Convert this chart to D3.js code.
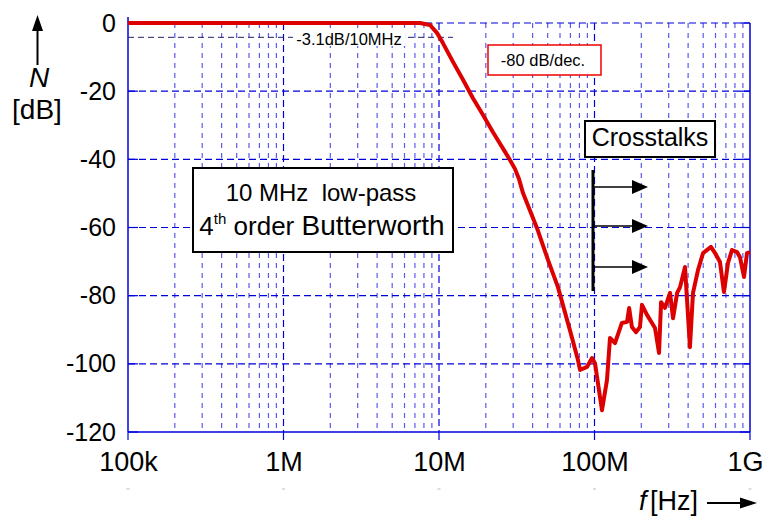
<!DOCTYPE html>
<html><head><meta charset="utf-8">
<script src="https://cdn.jsdelivr.net/npm/d3@7"></script>
<style>
body{margin:0;background:#fff;}
svg{display:block;font-family:"Liberation Sans",Arial,sans-serif;}
</style></head>
<body>
<script>
// ---- data ----
const freqHz = [1e5, 7.0e6, 7.55e6, 8.75e6, 9.7e6, 10.6e6, 12.3e6, 14.3e6, 16.5e6, 19.2e6, 22.2e6, 26.6e6, 28.6e6, 30.8e6, 32.7e6, 34.7e6, 42.7e6, 50.2e6, 58.2e6, 69.5e6, 78.3e6, 80.7e6, 89.5e6, 96.4e6, 100.7e6, 111.7e6, 120.3e6, 125.8e6, 135.5e6, 150e6, 162e6, 167e6, 174e6, 185e6, 196e6, 202e6, 218e6, 245e6, 260e6, 268e6, 284e6, 306e6, 320e6, 340e6, 355e6, 382e6, 411e6, 430e6, 463e6, 499e6, 561e6, 596e6, 641e6, 680e6, 722e6, 766e6, 825e6, 862e6, 915e6, 957e6, 1000e6];
const gainDb = [0, 0, 0, -0.6, -2.9, -5.9, -11.4, -16.7, -22.0, -27.0, -32.0, -37.8, -40.2, -42.8, -45.8, -49.9, -60.2, -69.5, -77.5, -90.1, -98.9, -101.8, -100.9, -98.3, -99.8, -113.6, -104.8, -92.4, -93.9, -88.0, -87.7, -83.6, -89.2, -90.7, -89.2, -82.7, -85.7, -89.5, -96.8, -81.9, -83.6, -79.2, -86.6, -79.2, -77.5, -71.6, -95.1, -79.2, -72.5, -67.5, -65.7, -67.5, -70.1, -78.9, -70.4, -66.6, -67.2, -68.7, -74.5, -67.5, -67.2];
const xTickValues = [1e5, 1e6, 1e7, 1e8, 1e9];
const xTickLabels = ["100k", "1M", "10M", "100M", "1G"];
const yTickValues = [0, -20, -40, -60, -80, -100, -120];
const yTickLabels = ["0", "-20", "-40", "-60", "-80", "-100", "-120"];
const cornerLevel = -4.2;
const cornerLabel = "-3.1dB/10MHz";
const slopeLabel = "-80 dB/dec.";
const crosstalkLabel = "Crosstalks";
const filterLine1 = "10 MHz  low-pass";

// ---- layout ----
const W = 766, H = 518;
const m = {left:128, right:750, top:23, bottom:432};
const svg = d3.select("body").append("svg").attr("width", W).attr("height", H);
const x = d3.scaleLog().domain([1e5, 1e9]).range([m.left, m.right]);
const y = d3.scaleLinear().domain([-120, 0]).range([m.bottom, m.top]);
const blue = "#0000dd";

// minor vertical grid
const minors = [];
for (let d = 1e5; d < 1e9; d *= 10) for (let k = 2; k <= 9; k++) minors.push(d * k);
svg.append("g").selectAll("line").data(minors).join("line")
  .attr("x1", d => x(d)).attr("x2", d => x(d)).attr("y1", m.top).attr("y2", m.bottom)
  .attr("stroke", "#5a5aee").attr("stroke-width", 1.2).attr("stroke-dasharray", "5,5");
// major vertical grid
svg.append("g").selectAll("line").data(xTickValues.slice(1, -1)).join("line")
  .attr("x1", d => x(d)).attr("x2", d => x(d)).attr("y1", m.top).attr("y2", m.bottom)
  .attr("stroke", blue).attr("stroke-width", 1.2).attr("stroke-dasharray", "7,4");
// horizontal grid
svg.append("g").selectAll("line").data(yTickValues.slice(0, -1)).join("line")
  .attr("x1", m.left).attr("x2", m.right).attr("y1", d => y(d)).attr("y2", d => y(d))
  .attr("stroke", blue).attr("stroke-width", 1.2).attr("stroke-dasharray", "7,4");
// inner solid ticks left / right
svg.append("g").selectAll("line").data(yTickValues).join("line")
  .attr("x1", m.left).attr("x2", m.left + 10).attr("y1", d => y(d)).attr("y2", d => y(d))
  .attr("stroke", blue).attr("stroke-width", 1.2);
svg.append("g").selectAll("line").data(yTickValues).join("line")
  .attr("x1", m.right - 10).attr("x2", m.right).attr("y1", d => y(d)).attr("y2", d => y(d))
  .attr("stroke", blue).attr("stroke-width", 1.2);
// axes borders
svg.append("line").attr("x1", m.left).attr("x2", m.left).attr("y1", m.top - 6).attr("y2", m.bottom)
  .attr("stroke", blue).attr("stroke-width", 1.5);
svg.append("line").attr("x1", m.right).attr("x2", m.right).attr("y1", m.top).attr("y2", m.bottom)
  .attr("stroke", blue).attr("stroke-width", 1.5);
svg.append("line").attr("x1", m.left).attr("x2", m.right).attr("y1", m.bottom).attr("y2", m.bottom)
  .attr("stroke", blue).attr("stroke-width", 1.5);
// bottom outward ticks
svg.append("g").selectAll("line").data(xTickValues).join("line")
  .attr("x1", d => x(d)).attr("x2", d => x(d)).attr("y1", m.bottom).attr("y2", m.bottom + 8)
  .attr("stroke", blue).attr("stroke-width", 1.2);
// faint marks under labels
svg.append("g").selectAll("line").data(xTickValues).join("line")
  .attr("x1", d => x(d) - 1.5).attr("x2", d => x(d) + 1.5).attr("y1", 489).attr("y2", 489)
  .attr("stroke", "#bbb").attr("stroke-width", 1);

// y axis labels
const yAxis = d3.axisLeft(y).tickValues(yTickValues).tickSize(0).tickPadding(12)
  .tickFormat((d, i) => yTickLabels[i]);
const gy = svg.append("g").attr("transform", `translate(${m.left},0)`).call(yAxis);
gy.select(".domain").remove();
gy.selectAll("text").attr("font-size", 25).attr("font-family", "Liberation Sans, Arial, sans-serif").attr("fill", "#000");
// x axis labels
const xAxis = d3.axisBottom(x).tickValues(xTickValues).tickSize(0).tickPadding(20)
  .tickFormat((d, i) => xTickLabels[i]);
const gx = svg.append("g").attr("transform", `translate(0,${m.bottom})`).call(xAxis);
gx.select(".domain").remove();
gx.selectAll("text").attr("font-size", 27).attr("font-family", "Liberation Sans, Arial, sans-serif").attr("fill", "#000")
  .attr("dx", (d, i) => i === xTickValues.length - 1 ? -5 : 0);

// -3.1dB reference line
svg.append("line").attr("x1", m.left).attr("x2", 453).attr("y1", y(cornerLevel)).attr("y2", y(cornerLevel))
  .attr("stroke", "#222266").attr("stroke-width", 1).attr("stroke-dasharray", "6,4");
svg.append("rect").attr("x", 293).attr("y", 33).attr("width", 112).attr("height", 13).attr("fill", "#fff");
svg.append("text").attr("x", 349).attr("y", 45).attr("text-anchor", "middle")
  .attr("font-size", 16.5).text(cornerLabel);

// response curve
const line = d3.line().x((d, i) => x(freqHz[i])).y(d => y(d)).curve(d3.curveLinear);
svg.append("path").datum(gainDb).attr("d", line).attr("fill", "none")
  .attr("stroke", "#dd0000").attr("stroke-width", 4).attr("stroke-linejoin", "round");

// -80 dB/dec box
svg.append("rect").attr("x", 488).attr("y", 45).attr("width", 113).attr("height", 30)
  .attr("fill", "#fff").attr("stroke", "#ee0000").attr("stroke-width", 1.5);
svg.append("text").attr("x", 543).attr("y", 66).attr("text-anchor", "middle")
  .attr("font-size", 16.5).text(slopeLabel);

// filter box
svg.append("rect").attr("x", 193).attr("y", 168).attr("width", 260).attr("height", 84)
  .attr("fill", "#fff").attr("stroke", "#000").attr("stroke-width", 2);
svg.append("text").attr("x", 321).attr("y", 201).attr("text-anchor", "middle")
  .attr("font-size", 24).style("white-space", "pre").text(filterLine1);
const t2 = svg.append("text").attr("x", 322).attr("y", 235).attr("text-anchor", "middle").attr("font-size", 26);
t2.append("tspan").text("4");
t2.append("tspan").attr("font-size", 15).attr("dy", -11).text("th");
t2.append("tspan").attr("dy", 11).text(" order ");
t2.append("tspan").attr("font-size", 28).text("Butterworth");

// crosstalk box
svg.append("rect").attr("x", 585).attr("y", 121).attr("width", 130).attr("height", 36)
  .attr("fill", "#fff").attr("stroke", "#000").attr("stroke-width", 2);
svg.append("text").attr("x", 650).attr("y", 146).attr("text-anchor", "middle")
  .attr("font-size", 25).text(crosstalkLabel);
svg.append("line").attr("x1", 593).attr("x2", 593).attr("y1", 170).attr("y2", 291)
  .attr("stroke", "#000").attr("stroke-width", 3);
[187, 226, 267].forEach(yy => {
  svg.append("line").attr("x1", 593).attr("x2", 634).attr("y1", yy).attr("y2", yy)
    .attr("stroke", "#000").attr("stroke-width", 1.5);
  svg.append("path").attr("d", `M632,${yy-7} L648,${yy} L632,${yy+7} Z`).attr("fill", "#000");
});

// y title
svg.append("line").attr("x1", 37.5).attr("x2", 37.5).attr("y1", 28).attr("y2", 65)
  .attr("stroke", "#000").attr("stroke-width", 2);
svg.append("path").attr("d", "M32,31 L37.5,15 L43,31 Z").attr("fill", "#000");
svg.append("text").attr("x", 39).attr("y", 87).attr("text-anchor", "middle")
  .attr("font-size", 28).attr("font-style", "italic").text("N");
svg.append("text").attr("x", 37).attr("y", 119).attr("text-anchor", "middle")
  .attr("font-size", 28).text("[dB]");

// x title
svg.append("text").attr("x", 639).attr("y", 510).attr("font-size", 27)
  .attr("font-style", "italic").text("f");
svg.append("text").attr("x", 650).attr("y", 510).attr("font-size", 27).text("[Hz]");
svg.append("line").attr("x1", 707).attr("x2", 744).attr("y1", 503).attr("y2", 503)
  .attr("stroke", "#000").attr("stroke-width", 2);
svg.append("path").attr("d", "M740,497.5 L757,503 L740,508.5 Z").attr("fill", "#000");
</script>
</body></html>
